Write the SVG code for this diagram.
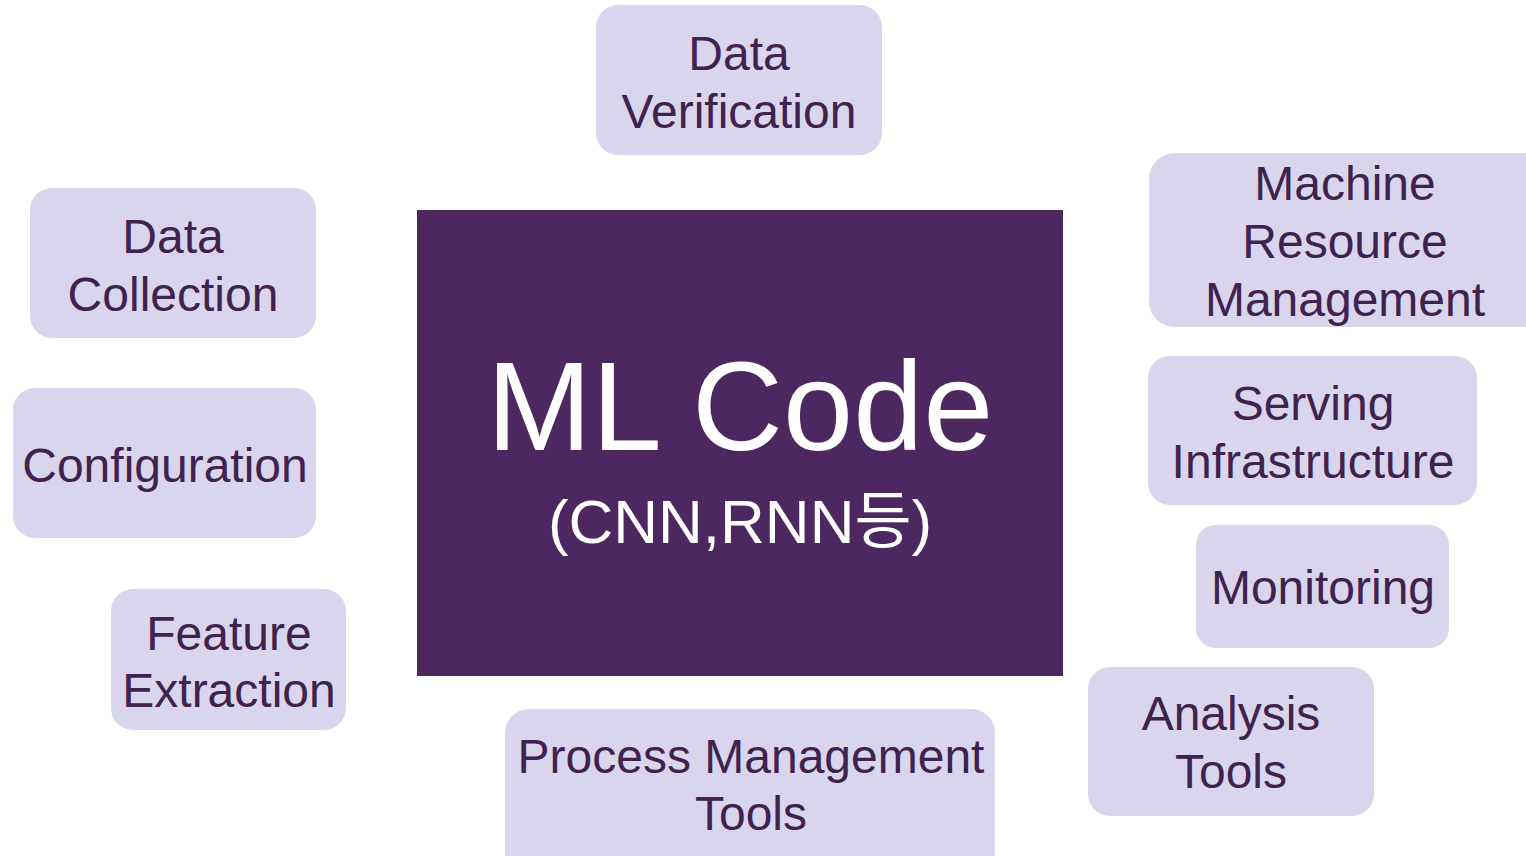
<svg xmlns="http://www.w3.org/2000/svg" width="1526" height="856" viewBox="0 0 1526 856">
  <defs>
    <style>
      .box { fill: #D8D5EC; }
      .lbl { font-family: "Liberation Sans", Arial, sans-serif; font-size: 48px; fill: #40224F; text-anchor: middle; }
      .core { fill: #4D2760; }
      .core-t { font-family: "Liberation Sans", Arial, "Noto Sans CJK KR", sans-serif; fill: #FFFFFF; text-anchor: middle; }
    </style>
  </defs>
  <rect width="1526" height="856" fill="#FFFFFF"/>

  <!-- centre block -->
  <g id="ml-code">
    <rect class="core" x="417" y="210" width="646" height="466"/>
    <text class="core-t" x="740" y="450" font-size="126">ML Code</text>
    <text class="core-t" x="740" y="543" font-size="62">(CNN,RNN등)</text>
  </g>

  <g id="data-verification">
    <rect class="box" x="596" y="5" width="286" height="150" rx="22"/>
    <text class="lbl" x="739" y="70">Data</text>
    <text class="lbl" x="739" y="128">Verification</text>
  </g>

  <g id="data-collection">
    <rect class="box" x="30" y="188" width="286" height="150" rx="22"/>
    <text class="lbl" x="173" y="253">Data</text>
    <text class="lbl" x="173" y="311">Collection</text>
  </g>

  <g id="configuration">
    <rect class="box" x="13" y="388" width="303" height="150" rx="22"/>
    <text class="lbl" x="165" y="482">Configuration</text>
  </g>

  <g id="feature-extraction">
    <rect class="box" x="111" y="589" width="235" height="141" rx="22"/>
    <text class="lbl" x="229" y="650">Feature</text>
    <text class="lbl" x="229" y="707">Extraction</text>
  </g>

  <g id="process-management-tools">
    <rect class="box" x="505" y="709" width="490" height="170" rx="24"/>
    <text class="lbl" x="751" y="773" font-size="47">Process Management</text>
    <text class="lbl" x="751" y="830">Tools</text>
  </g>

  <g id="machine-resource-management">
    <rect class="box" x="1149" y="153" width="400" height="174" rx="26"/>
    <text class="lbl" x="1345" y="200">Machine</text>
    <text class="lbl" x="1345" y="258">Resource</text>
    <text class="lbl" x="1345" y="316">Management</text>
  </g>

  <g id="serving-infrastructure">
    <rect class="box" x="1148" y="356" width="329" height="149" rx="22"/>
    <text class="lbl" x="1313" y="420">Serving</text>
    <text class="lbl" x="1313" y="478">Infrastructure</text>
  </g>

  <g id="monitoring">
    <rect class="box" x="1196" y="525" width="253" height="123" rx="20"/>
    <text class="lbl" x="1323" y="604">Monitoring</text>
  </g>

  <g id="analysis-tools">
    <rect class="box" x="1088" y="667" width="286" height="149" rx="22"/>
    <text class="lbl" x="1231" y="730">Analysis</text>
    <text class="lbl" x="1231" y="788">Tools</text>
  </g>

  <g id="connectors"></g>
</svg>
